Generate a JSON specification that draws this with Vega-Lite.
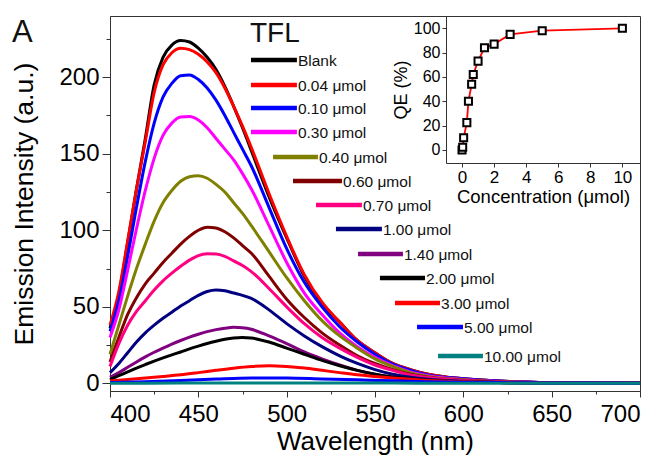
{
"$schema": "https://vega.github.io/schema/vega-lite/v6.json",
"width": 530, "height": 375,
"autosize": {"type": "none"},
"padding": {"left": 110, "top": 16, "right": 22, "bottom": 68},
"background": "white",
"datasets": {
"spectra": [
{"s":"Blank","w":400,"v":36},{"s":"Blank","w":405,"v":58},{"s":"Blank","w":410,"v":92},{"s":"Blank","w":415,"v":127},{"s":"Blank","w":420,"v":160},{"s":"Blank","w":425,"v":195},{"s":"Blank","w":430,"v":213},{"s":"Blank","w":435,"v":221},{"s":"Blank","w":440,"v":224},{"s":"Blank","w":445,"v":223},{"s":"Blank","w":450,"v":219},{"s":"Blank","w":455,"v":213},{"s":"Blank","w":460,"v":205},{"s":"Blank","w":465,"v":194},{"s":"Blank","w":470,"v":181},{"s":"Blank","w":475,"v":167},{"s":"Blank","w":480,"v":152},{"s":"Blank","w":490,"v":122},{"s":"Blank","w":500,"v":95},{"s":"Blank","w":510,"v":70},{"s":"Blank","w":520,"v":52},{"s":"Blank","w":530,"v":40},{"s":"Blank","w":540,"v":28},{"s":"Blank","w":550,"v":20},{"s":"Blank","w":560,"v":13},{"s":"Blank","w":570,"v":9},{"s":"Blank","w":580,"v":6},{"s":"Blank","w":600,"v":3},{"s":"Blank","w":620,"v":1.5},{"s":"Blank","w":650,"v":0.5},{"s":"Blank","w":700,"v":0},
{"s":"0.04 μmol","w":400,"v":38},{"s":"0.04 μmol","w":405,"v":60},{"s":"0.04 μmol","w":410,"v":93},{"s":"0.04 μmol","w":415,"v":127},{"s":"0.04 μmol","w":420,"v":158},{"s":"0.04 μmol","w":425,"v":190},{"s":"0.04 μmol","w":430,"v":208},{"s":"0.04 μmol","w":435,"v":216},{"s":"0.04 μmol","w":440,"v":219},{"s":"0.04 μmol","w":445,"v":218},{"s":"0.04 μmol","w":450,"v":215},{"s":"0.04 μmol","w":455,"v":210},{"s":"0.04 μmol","w":460,"v":203},{"s":"0.04 μmol","w":465,"v":193},{"s":"0.04 μmol","w":470,"v":181},{"s":"0.04 μmol","w":475,"v":168},{"s":"0.04 μmol","w":480,"v":154},{"s":"0.04 μmol","w":490,"v":124},{"s":"0.04 μmol","w":500,"v":96},{"s":"0.04 μmol","w":510,"v":71},{"s":"0.04 μmol","w":520,"v":53},{"s":"0.04 μmol","w":530,"v":40},{"s":"0.04 μmol","w":540,"v":28},{"s":"0.04 μmol","w":550,"v":20},{"s":"0.04 μmol","w":560,"v":13},{"s":"0.04 μmol","w":570,"v":9},{"s":"0.04 μmol","w":580,"v":6},{"s":"0.04 μmol","w":600,"v":3},{"s":"0.04 μmol","w":620,"v":1.5},{"s":"0.04 μmol","w":650,"v":0.5},{"s":"0.04 μmol","w":700,"v":0},
{"s":"0.10 μmol","w":400,"v":34},{"s":"0.10 μmol","w":405,"v":54},{"s":"0.10 μmol","w":410,"v":83},{"s":"0.10 μmol","w":415,"v":115},{"s":"0.10 μmol","w":420,"v":145},{"s":"0.10 μmol","w":425,"v":170},{"s":"0.10 μmol","w":430,"v":187},{"s":"0.10 μmol","w":435,"v":196},{"s":"0.10 μmol","w":440,"v":201},{"s":"0.10 μmol","w":445,"v":201.5},{"s":"0.10 μmol","w":450,"v":198.5},{"s":"0.10 μmol","w":455,"v":193},{"s":"0.10 μmol","w":460,"v":185},{"s":"0.10 μmol","w":465,"v":175},{"s":"0.10 μmol","w":470,"v":164},{"s":"0.10 μmol","w":475,"v":153},{"s":"0.10 μmol","w":480,"v":142},{"s":"0.10 μmol","w":490,"v":115},{"s":"0.10 μmol","w":500,"v":88},{"s":"0.10 μmol","w":510,"v":66},{"s":"0.10 μmol","w":520,"v":50},{"s":"0.10 μmol","w":530,"v":37},{"s":"0.10 μmol","w":540,"v":27},{"s":"0.10 μmol","w":550,"v":19},{"s":"0.10 μmol","w":560,"v":12.5},{"s":"0.10 μmol","w":570,"v":8.5},{"s":"0.10 μmol","w":580,"v":5.5},{"s":"0.10 μmol","w":600,"v":3},{"s":"0.10 μmol","w":620,"v":1.5},{"s":"0.10 μmol","w":650,"v":0.5},{"s":"0.10 μmol","w":700,"v":0},
{"s":"0.30 μmol","w":400,"v":30},{"s":"0.30 μmol","w":405,"v":48},{"s":"0.30 μmol","w":410,"v":74},{"s":"0.30 μmol","w":415,"v":101},{"s":"0.30 μmol","w":420,"v":126},{"s":"0.30 μmol","w":425,"v":147},{"s":"0.30 μmol","w":430,"v":162},{"s":"0.30 μmol","w":435,"v":170},{"s":"0.30 μmol","w":440,"v":174},{"s":"0.30 μmol","w":445,"v":174.3},{"s":"0.30 μmol","w":450,"v":172},{"s":"0.30 μmol","w":455,"v":167},{"s":"0.30 μmol","w":460,"v":160},{"s":"0.30 μmol","w":465,"v":153},{"s":"0.30 μmol","w":470,"v":146},{"s":"0.30 μmol","w":475,"v":137},{"s":"0.30 μmol","w":480,"v":127},{"s":"0.30 μmol","w":490,"v":103},{"s":"0.30 μmol","w":500,"v":79},{"s":"0.30 μmol","w":510,"v":59},{"s":"0.30 μmol","w":520,"v":45},{"s":"0.30 μmol","w":530,"v":33},{"s":"0.30 μmol","w":540,"v":24},{"s":"0.30 μmol","w":550,"v":17},{"s":"0.30 μmol","w":560,"v":11.5},{"s":"0.30 μmol","w":570,"v":7.5},{"s":"0.30 μmol","w":580,"v":5},{"s":"0.30 μmol","w":600,"v":2.5},{"s":"0.30 μmol","w":620,"v":1.2},{"s":"0.30 μmol","w":650,"v":0.4},{"s":"0.30 μmol","w":700,"v":0},
{"s":"0.40 μmol","w":400,"v":19},{"s":"0.40 μmol","w":405,"v":38},{"s":"0.40 μmol","w":410,"v":57},{"s":"0.40 μmol","w":415,"v":75},{"s":"0.40 μmol","w":420,"v":91},{"s":"0.40 μmol","w":425,"v":106},{"s":"0.40 μmol","w":430,"v":118},{"s":"0.40 μmol","w":435,"v":126},{"s":"0.40 μmol","w":440,"v":132},{"s":"0.40 μmol","w":445,"v":135},{"s":"0.40 μmol","w":450,"v":135.7},{"s":"0.40 μmol","w":455,"v":134},{"s":"0.40 μmol","w":460,"v":130},{"s":"0.40 μmol","w":465,"v":125},{"s":"0.40 μmol","w":470,"v":118},{"s":"0.40 μmol","w":475,"v":111},{"s":"0.40 μmol","w":480,"v":103},{"s":"0.40 μmol","w":490,"v":86},{"s":"0.40 μmol","w":500,"v":69},{"s":"0.40 μmol","w":510,"v":54},{"s":"0.40 μmol","w":520,"v":41},{"s":"0.40 μmol","w":530,"v":31},{"s":"0.40 μmol","w":540,"v":23},{"s":"0.40 μmol","w":550,"v":16},{"s":"0.40 μmol","w":560,"v":11},{"s":"0.40 μmol","w":570,"v":7},{"s":"0.40 μmol","w":580,"v":4.5},{"s":"0.40 μmol","w":600,"v":2.3},{"s":"0.40 μmol","w":620,"v":1.1},{"s":"0.40 μmol","w":650,"v":0.4},{"s":"0.40 μmol","w":700,"v":0},
{"s":"0.60 μmol","w":400,"v":14},{"s":"0.60 μmol","w":405,"v":30},{"s":"0.60 μmol","w":410,"v":45},{"s":"0.60 μmol","w":415,"v":56},{"s":"0.60 μmol","w":420,"v":65},{"s":"0.60 μmol","w":425,"v":72},{"s":"0.60 μmol","w":430,"v":79},{"s":"0.60 μmol","w":435,"v":85},{"s":"0.60 μmol","w":440,"v":91},{"s":"0.60 μmol","w":445,"v":96},{"s":"0.60 μmol","w":450,"v":100},{"s":"0.60 μmol","w":455,"v":102},{"s":"0.60 μmol","w":460,"v":101.5},{"s":"0.60 μmol","w":465,"v":99},{"s":"0.60 μmol","w":470,"v":95},{"s":"0.60 μmol","w":475,"v":90},{"s":"0.60 μmol","w":480,"v":85},{"s":"0.60 μmol","w":490,"v":70},{"s":"0.60 μmol","w":500,"v":55},{"s":"0.60 μmol","w":510,"v":43},{"s":"0.60 μmol","w":520,"v":33},{"s":"0.60 μmol","w":530,"v":25},{"s":"0.60 μmol","w":540,"v":18},{"s":"0.60 μmol","w":550,"v":13},{"s":"0.60 μmol","w":560,"v":9},{"s":"0.60 μmol","w":570,"v":6},{"s":"0.60 μmol","w":580,"v":4},{"s":"0.60 μmol","w":600,"v":2},{"s":"0.60 μmol","w":620,"v":1},{"s":"0.60 μmol","w":650,"v":0.3},{"s":"0.60 μmol","w":700,"v":0},
{"s":"0.70 μmol","w":400,"v":11},{"s":"0.70 μmol","w":405,"v":26},{"s":"0.70 μmol","w":410,"v":38},{"s":"0.70 μmol","w":415,"v":47},{"s":"0.70 μmol","w":420,"v":54},{"s":"0.70 μmol","w":425,"v":61},{"s":"0.70 μmol","w":430,"v":67},{"s":"0.70 μmol","w":435,"v":72},{"s":"0.70 μmol","w":440,"v":76.5},{"s":"0.70 μmol","w":445,"v":80.5},{"s":"0.70 μmol","w":450,"v":83.5},{"s":"0.70 μmol","w":455,"v":84.6},{"s":"0.70 μmol","w":460,"v":84.5},{"s":"0.70 μmol","w":465,"v":83},{"s":"0.70 μmol","w":470,"v":80},{"s":"0.70 μmol","w":475,"v":77},{"s":"0.70 μmol","w":480,"v":73},{"s":"0.70 μmol","w":490,"v":62},{"s":"0.70 μmol","w":500,"v":50},{"s":"0.70 μmol","w":510,"v":39},{"s":"0.70 μmol","w":520,"v":30},{"s":"0.70 μmol","w":530,"v":23},{"s":"0.70 μmol","w":540,"v":17},{"s":"0.70 μmol","w":550,"v":12},{"s":"0.70 μmol","w":560,"v":8.5},{"s":"0.70 μmol","w":570,"v":5.5},{"s":"0.70 μmol","w":580,"v":3.8},{"s":"0.70 μmol","w":600,"v":1.8},{"s":"0.70 μmol","w":620,"v":0.9},{"s":"0.70 μmol","w":650,"v":0.3},{"s":"0.70 μmol","w":700,"v":0},
{"s":"1.00 μmol","w":400,"v":7},{"s":"1.00 μmol","w":405,"v":13},{"s":"1.00 μmol","w":410,"v":20},{"s":"1.00 μmol","w":415,"v":27},{"s":"1.00 μmol","w":420,"v":33},{"s":"1.00 μmol","w":425,"v":38},{"s":"1.00 μmol","w":430,"v":42.5},{"s":"1.00 μmol","w":435,"v":46.5},{"s":"1.00 μmol","w":440,"v":50.5},{"s":"1.00 μmol","w":445,"v":54},{"s":"1.00 μmol","w":450,"v":57.5},{"s":"1.00 μmol","w":455,"v":60},{"s":"1.00 μmol","w":460,"v":61},{"s":"1.00 μmol","w":465,"v":60.5},{"s":"1.00 μmol","w":470,"v":59},{"s":"1.00 μmol","w":475,"v":57.5},{"s":"1.00 μmol","w":480,"v":55.5},{"s":"1.00 μmol","w":490,"v":48},{"s":"1.00 μmol","w":500,"v":39},{"s":"1.00 μmol","w":510,"v":31},{"s":"1.00 μmol","w":520,"v":24},{"s":"1.00 μmol","w":530,"v":18},{"s":"1.00 μmol","w":540,"v":13},{"s":"1.00 μmol","w":550,"v":9},{"s":"1.00 μmol","w":560,"v":6},{"s":"1.00 μmol","w":570,"v":4},{"s":"1.00 μmol","w":580,"v":2.7},{"s":"1.00 μmol","w":600,"v":1.3},{"s":"1.00 μmol","w":620,"v":0.6},{"s":"1.00 μmol","w":650,"v":0.2},{"s":"1.00 μmol","w":700,"v":0},
{"s":"1.40 μmol","w":400,"v":4},{"s":"1.40 μmol","w":405,"v":7},{"s":"1.40 μmol","w":410,"v":10.5},{"s":"1.40 μmol","w":415,"v":14},{"s":"1.40 μmol","w":420,"v":17.3},{"s":"1.40 μmol","w":425,"v":20.3},{"s":"1.40 μmol","w":430,"v":23},{"s":"1.40 μmol","w":435,"v":25.6},{"s":"1.40 μmol","w":440,"v":28},{"s":"1.40 μmol","w":445,"v":30.2},{"s":"1.40 μmol","w":450,"v":32.1},{"s":"1.40 μmol","w":455,"v":33.8},{"s":"1.40 μmol","w":460,"v":35.1},{"s":"1.40 μmol","w":465,"v":36},{"s":"1.40 μmol","w":470,"v":36.6},{"s":"1.40 μmol","w":475,"v":36.3},{"s":"1.40 μmol","w":480,"v":35.3},{"s":"1.40 μmol","w":490,"v":31},{"s":"1.40 μmol","w":500,"v":26},{"s":"1.40 μmol","w":510,"v":20.5},{"s":"1.40 μmol","w":520,"v":16},{"s":"1.40 μmol","w":530,"v":12},{"s":"1.40 μmol","w":540,"v":8.5},{"s":"1.40 μmol","w":550,"v":6},{"s":"1.40 μmol","w":560,"v":4},{"s":"1.40 μmol","w":570,"v":2.8},{"s":"1.40 μmol","w":580,"v":1.9},{"s":"1.40 μmol","w":600,"v":1},{"s":"1.40 μmol","w":620,"v":0.5},{"s":"1.40 μmol","w":650,"v":0.2},{"s":"1.40 μmol","w":700,"v":0},
{"s":"2.00 μmol","w":400,"v":2.5},{"s":"2.00 μmol","w":405,"v":5},{"s":"2.00 μmol","w":410,"v":7.5},{"s":"2.00 μmol","w":415,"v":10},{"s":"2.00 μmol","w":420,"v":12.3},{"s":"2.00 μmol","w":425,"v":14.5},{"s":"2.00 μmol","w":430,"v":16.6},{"s":"2.00 μmol","w":435,"v":18.6},{"s":"2.00 μmol","w":440,"v":20.5},{"s":"2.00 μmol","w":445,"v":22.5},{"s":"2.00 μmol","w":450,"v":24.3},{"s":"2.00 μmol","w":455,"v":26},{"s":"2.00 μmol","w":460,"v":27.5},{"s":"2.00 μmol","w":465,"v":28.8},{"s":"2.00 μmol","w":470,"v":29.7},{"s":"2.00 μmol","w":475,"v":30},{"s":"2.00 μmol","w":480,"v":29.6},{"s":"2.00 μmol","w":490,"v":27},{"s":"2.00 μmol","w":500,"v":23},{"s":"2.00 μmol","w":510,"v":19},{"s":"2.00 μmol","w":520,"v":15},{"s":"2.00 μmol","w":530,"v":11.5},{"s":"2.00 μmol","w":540,"v":8.5},{"s":"2.00 μmol","w":550,"v":6},{"s":"2.00 μmol","w":560,"v":4.2},{"s":"2.00 μmol","w":570,"v":3},{"s":"2.00 μmol","w":580,"v":2},{"s":"2.00 μmol","w":600,"v":1},{"s":"2.00 μmol","w":620,"v":0.5},{"s":"2.00 μmol","w":650,"v":0.2},{"s":"2.00 μmol","w":700,"v":0},
{"s":"3.00 μmol","w":400,"v":1.5},{"s":"3.00 μmol","w":410,"v":2.5},{"s":"3.00 μmol","w":420,"v":3.5},{"s":"3.00 μmol","w":430,"v":4.5},{"s":"3.00 μmol","w":440,"v":5.6},{"s":"3.00 μmol","w":450,"v":7},{"s":"3.00 μmol","w":460,"v":8.5},{"s":"3.00 μmol","w":470,"v":9.9},{"s":"3.00 μmol","w":480,"v":11},{"s":"3.00 μmol","w":490,"v":11.5},{"s":"3.00 μmol","w":500,"v":11},{"s":"3.00 μmol","w":510,"v":10},{"s":"3.00 μmol","w":520,"v":8.5},{"s":"3.00 μmol","w":530,"v":7},{"s":"3.00 μmol","w":540,"v":5.6},{"s":"3.00 μmol","w":550,"v":4.5},{"s":"3.00 μmol","w":560,"v":3.5},{"s":"3.00 μmol","w":570,"v":2.6},{"s":"3.00 μmol","w":580,"v":1.8},{"s":"3.00 μmol","w":600,"v":1},{"s":"3.00 μmol","w":620,"v":0.5},{"s":"3.00 μmol","w":650,"v":0.2},{"s":"3.00 μmol","w":700,"v":0},
{"s":"5.00 μmol","w":400,"v":0.5},{"s":"5.00 μmol","w":420,"v":1},{"s":"5.00 μmol","w":440,"v":1.8},{"s":"5.00 μmol","w":460,"v":2.8},{"s":"5.00 μmol","w":480,"v":3.5},{"s":"5.00 μmol","w":500,"v":3.5},{"s":"5.00 μmol","w":520,"v":2.9},{"s":"5.00 μmol","w":540,"v":2.3},{"s":"5.00 μmol","w":560,"v":1.7},{"s":"5.00 μmol","w":580,"v":1.1},{"s":"5.00 μmol","w":600,"v":0.7},{"s":"5.00 μmol","w":620,"v":0.5},{"s":"5.00 μmol","w":650,"v":0.3},{"s":"5.00 μmol","w":700,"v":0.1},
{"s":"10.00 μmol","w":400,"v":0},{"s":"10.00 μmol","w":420,"v":0.1},{"s":"10.00 μmol","w":440,"v":0.2},{"s":"10.00 μmol","w":460,"v":0.3},{"s":"10.00 μmol","w":480,"v":0.3},{"s":"10.00 μmol","w":500,"v":0.3},{"s":"10.00 μmol","w":520,"v":0.3},{"s":"10.00 μmol","w":540,"v":0.2},{"s":"10.00 μmol","w":560,"v":0.2},{"s":"10.00 μmol","w":580,"v":0.1},{"s":"10.00 μmol","w":600,"v":0.1},{"s":"10.00 μmol","w":650,"v":0},{"s":"10.00 μmol","w":700,"v":0}
],
"legend": [
{"s":"Blank","x1":479.8,"x2":505.8,"y":211.3},
{"s":"0.04 μmol","x1":479.8,"x2":505.8,"y":194.9},
{"s":"0.10 μmol","x1":479.8,"x2":505.8,"y":179.9},
{"s":"0.30 μmol","x1":479.8,"x2":505.8,"y":164.2},
{"s":"0.40 μmol","x1":492.3,"x2":517.7,"y":147.9},
{"s":"0.60 μmol","x1":503.6,"x2":531.3,"y":132.2},
{"s":"0.70 μmol","x1":516.6,"x2":542.6,"y":116.5},
{"s":"1.00 μmol","x1":527.9,"x2":553.9,"y":100.8},
{"s":"1.40 μmol","x1":540.4,"x2":565.8,"y":84.5},
{"s":"2.00 μmol","x1":552.8,"x2":578.3,"y":68.8},
{"s":"3.00 μmol","x1":561.3,"x2":586.8,"y":52.5},
{"s":"5.00 μmol","x1":573.8,"x2":599.8,"y":36.8},
{"s":"10.00 μmol","x1":585.7,"x2":611.1,"y":17.9}
],
"notes": [
{"t":"TFL","w":479.2,"v":223,"f":"title"},
{"t":"A","w":344.5,"v":223,"f":"panel"}
],
"qe": [
{"c":0,"q":0},{"c":0.04,"q":2.2},{"c":0.1,"q":10},{"c":0.3,"q":22.5},{"c":0.4,"q":40},{"c":0.6,"q":54},{"c":0.7,"q":62},{"c":1.0,"q":73},{"c":1.4,"q":84},{"c":2.0,"q":87},{"c":3.0,"q":95},{"c":5.0,"q":98},{"c":10.0,"q":100}
]
},
"layer": [
{
"layer": [
{
"data": {"name": "spectra"},
"mark": {"type": "line", "strokeWidth": 3, "interpolate": "monotone"},
"encoding": {
"x": {"field": "w", "type": "quantitative", "scale": {"domain": [400, 700], "nice": false, "zero": false},
 "axis": {"orient": "bottom", "values": [400, 450, 500, 550, 600, 650, 700], "tickSize": 6, "labelPadding": 5, "labelFontSize": 24, "title": "Wavelength (nm)", "titleFontSize": 26, "titlePadding": 2, "grid": false}},
"y": {"field": "v", "type": "quantitative", "scale": {"domain": [-5, 240], "nice": false, "zero": false},
 "axis": {"orient": "left", "values": [0, 50, 100, 150, 200], "tickSize": 8, "labelPadding": 3, "labelFontSize": 24, "title": "Emission Intensity (a.u.)", "titleFontSize": 26.5, "titlePadding": 20, "grid": false}},
"color": {"field": "s", "type": "nominal", "legend": null,
 "scale": {"domain": ["Blank","0.04 μmol","0.10 μmol","0.30 μmol","0.40 μmol","0.60 μmol","0.70 μmol","1.00 μmol","1.40 μmol","2.00 μmol","3.00 μmol","5.00 μmol","10.00 μmol"],
 "range": ["#000000","#ff0000","#0000ff","#ff00ff","#808000","#800000","#ff0080","#000080","#800080","#000000","#ff0000","#0000ff","#008080"]}}
}
},
{
"data": {"name": "legend"},
"mark": {"type": "point", "opacity": 0},
"encoding": {
"x": {"field": "x1", "type": "quantitative", "scale": {"domain": [400, 700], "nice": false, "zero": false},
 "axis": {"orient": "bottom", "values": [425, 475, 525, 575, 625, 675], "labels": false, "tickSize": 3, "domain": false, "title": null, "grid": false}},
"y": {"field": "y", "type": "quantitative", "scale": {"domain": [-5, 240], "nice": false, "zero": false},
 "axis": {"orient": "left", "values": [25, 75, 125, 175, 225], "labels": false, "tickSize": 4, "domain": false, "title": null, "grid": false}}
}
},
{
"data": {"name": "legend"},
"mark": {"type": "rule", "strokeWidth": 4.5},
"encoding": {
"x": {"field": "x1", "type": "quantitative", "scale": {"domain": [400, 700], "nice": false, "zero": false}, "axis": null},
"x2": {"field": "x2"},
"y": {"field": "y", "type": "quantitative", "scale": {"domain": [-5, 240], "nice": false, "zero": false}, "axis": null},
"color": {"field": "s", "type": "nominal", "legend": null}
}
},
{
"data": {"name": "legend"},
"mark": {"type": "text", "align": "left", "baseline": "middle", "fontSize": 15.5, "dx": 1, "dy": 1, "color": "#111"},
"encoding": {
"x": {"field": "x2", "type": "quantitative", "scale": {"domain": [400, 700], "nice": false, "zero": false}, "axis": null},
"y": {"field": "y", "type": "quantitative", "scale": {"domain": [-5, 240], "nice": false, "zero": false}, "axis": null},
"text": {"field": "s"}
}
},
{
"data": {"name": "notes"},
"mark": {"type": "text", "align": "left", "baseline": "alphabetic", "color": "#111"},
"encoding": {
"x": {"field": "w", "type": "quantitative", "scale": {"domain": [400, 700], "nice": false, "zero": false}, "axis": null},
"y": {"field": "v", "type": "quantitative", "scale": {"domain": [-5, 240], "nice": false, "zero": false}, "axis": null},
"text": {"field": "t"},
"size": {"field": "f", "type": "nominal", "legend": null, "scale": {"domain": ["title", "panel"], "range": [28, 31]}}
}
}
],
"resolve": {"axis": {"x": "independent", "y": "independent"}}
},
{
"data": {"name": "qe"},
"encoding": {
"x": {"field": "c", "type": "quantitative", "scale": {"domain": [-1, 11.1], "range": [336, 530], "nice": false, "zero": false},
 "axis": {"orient": "bottom", "offset": -228, "values": [0, 2, 4, 6, 8, 10], "tickSize": 4, "labelPadding": 2, "labelFontSize": 17, "title": "Concentration (μmol)", "titleFontSize": 18.5, "titlePadding": 2, "grid": false}},
"y": {"field": "q", "type": "quantitative", "scale": {"domain": [-10.7, 110.1], "range": [147, 0], "nice": false, "zero": false},
 "axis": {"orient": "left", "offset": -336, "values": [0, 20, 40, 60, 80, 100], "tickSize": 4, "labelPadding": 2, "labelFontSize": 16, "title": "QE (%)", "titleFontSize": 18, "titlePadding": 3, "grid": false}}
},
"layer": [
{"mark": {"type": "line", "color": "#ff0000", "strokeWidth": 1.8}},
{"mark": {"type": "point", "shape": "square", "filled": true, "fill": "#ffffff", "stroke": "#000000", "strokeWidth": 2, "size": 50, "opacity": 1}}
]
}
],
"resolve": {"scale": {"x": "independent", "y": "independent"}},
"config": {
"font": "Liberation Sans",
"view": {"stroke": "#333333", "strokeWidth": 1},
"axis": {"domainColor": "#333333", "tickColor": "#333333", "labelColor": "#000000", "titleColor": "#000000", "titleFontWeight": "normal", "grid": false}
}
}
